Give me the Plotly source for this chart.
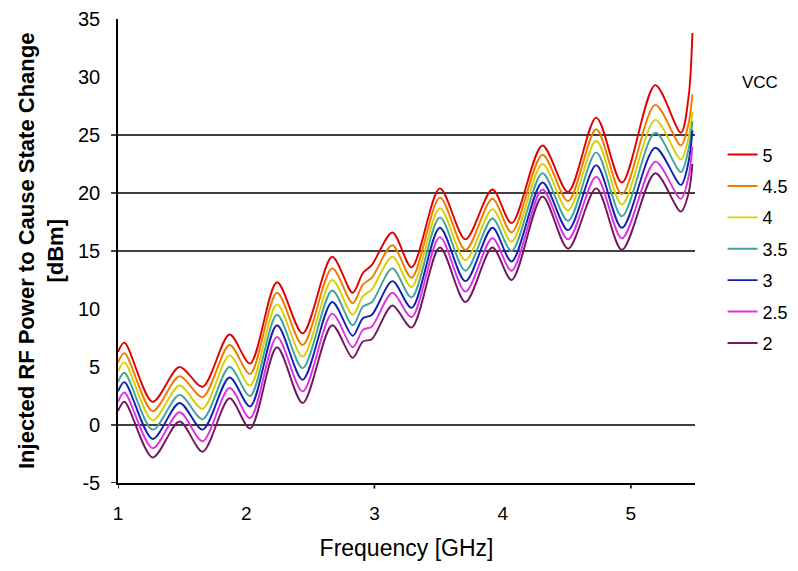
import plotly.graph_objects as go

# frequency points (GHz) at peaks / troughs
freq_ghz = [1.00, 1.05, 1.27, 1.48, 1.66, 1.87, 2.03, 2.24, 2.44, 2.67, 2.83, 2.91, 2.98, 3.14,
            3.29, 3.51, 3.71, 3.92, 4.07, 4.31, 4.51, 4.73, 4.93, 5.19, 5.39, 5.45, 5.48]

# injected RF power (dBm) per VCC level
vcc_5 = [6.3, 7.1, 2.0, 5.0, 3.3, 7.8, 5.3, 12.3, 7.9, 14.5, 11.4, 13.1, 13.8, 16.6,
         13.6, 20.4, 16.0, 20.3, 17.4, 24.1, 20.1, 26.5, 20.9, 29.3, 25.2, 28.3, 33.8]
vcc_4_5 = [5.4, 6.2, 1.2, 4.2, 2.4, 6.9, 4.4, 11.4, 6.9, 13.5, 10.5, 12.1, 12.7, 15.5,
           12.7, 19.6, 15.1, 19.5, 16.6, 23.3, 19.3, 25.5, 19.9, 27.6, 24.1, 26.0, 28.5]
vcc_4 = [4.6, 5.4, 0.4, 3.4, 1.4, 6.0, 3.4, 10.4, 5.9, 12.5, 9.5, 11.1, 11.7, 14.5,
         11.9, 18.7, 14.2, 18.6, 15.8, 22.5, 18.5, 24.5, 19.0, 26.3, 22.9, 24.8, 27.0]
vcc_3_5 = [3.7, 4.5, -0.4, 2.6, 0.5, 5.0, 2.5, 9.5, 4.9, 11.6, 8.6, 10.2, 10.6, 13.5,
           11.0, 17.9, 13.3, 17.8, 15.0, 21.7, 17.6, 23.5, 18.0, 25.2, 21.8, 23.8, 26.2]
vcc_3 = [2.9, 3.7, -1.2, 1.9, -0.4, 4.1, 1.6, 8.6, 3.9, 10.6, 7.7, 9.2, 9.5, 12.4,
         10.1, 17.0, 12.4, 17.0, 14.1, 20.9, 16.8, 22.4, 17.0, 23.9, 20.7, 22.7, 25.4]
vcc_2_5 = [2.0, 2.8, -2.0, 1.1, -1.4, 3.2, 0.6, 7.6, 2.9, 9.6, 6.7, 8.2, 8.5, 11.4,
           9.3, 16.2, 11.5, 16.1, 13.3, 20.3, 16.0, 21.4, 16.1, 22.7, 19.5, 21.4, 24.0]
vcc_2 = [1.2, 2.0, -2.8, 0.3, -2.3, 2.3, -0.3, 6.7, 1.9, 8.6, 5.8, 7.2, 7.4, 10.3,
         8.4, 15.3, 10.6, 15.3, 12.5, 19.7, 15.2, 20.4, 15.1, 21.7, 18.4, 20.0, 22.5]

vcc_labels = ["5", "4.5", "4", "3.5", "3", "2.5", "2"]
series = [vcc_5, vcc_4_5, vcc_4, vcc_3_5, vcc_3, vcc_2_5, vcc_2]
line_colors = ["#e00000", "#ee7a00", "#d8d000", "#3fa3a0", "#1020b0", "#e030e0", "#701860"]

x_ticks = [1, 2, 3, 4, 5]
x_tick_marks = [1, 3, 5]
y_ticks = [-5, 0, 5, 10, 15, 20, 25, 30, 35]
y_tick_text = ["-5", "0", "5", "10", "15", "20", "25", "30", "35"]
grid_levels = [0, 15, 20, 25]
font = "Arial, Liberation Sans, sans-serif"

fig = go.Figure()
for label, values, color in zip(vcc_labels, series, line_colors):
    fig.add_trace(go.Scatter(
        x=freq_ghz, y=values, name=label, mode="lines", legendgroup=label,
        line=dict(color=color, width=1.9, shape="spline", smoothing=0.85),
    ))

# black horizontal grid lines that also stick out left of the axis like ticks
for g in grid_levels + [-5]:
    fig.add_shape(type="line", xref="paper", yref="y", x0=-0.012, x1=1 if g != -5 else 0,
                  y0=g, y1=g, line=dict(color="black", width=1.6), layer="below")
for t in x_tick_marks:
    fig.add_shape(type="line", xref="x", yref="paper", x0=t, x1=t, y0=0, y1=-0.012,
                  line=dict(color="black", width=1.6))

fig.add_annotation(text="<b>Injected RF Power to Cause State Change<br>[dBm]</b>",
                   xref="paper", yref="paper", x=0, y=0.5, xshift=-77, textangle=-90,
                   xanchor="center", yanchor="middle",
                   showarrow=False, font=dict(family=font, size=22, color="black"))
fig.add_annotation(text="VCC", xref="paper", yref="paper", x=1.078, y=0.864,
                   xanchor="left", yanchor="middle", showarrow=False,
                   font=dict(family=font, size=17, color="black"))

# page body adds 8px, so the figure is made 8px smaller
fig.update_layout(
    template="none",
    width=790, height=563,
    margin=dict(l=110, r=103, t=11, b=88),
    plot_bgcolor="white", paper_bgcolor="white",
    font=dict(family=font, color="black"),
    showlegend=True,
    legend=dict(xref="container", yref="container", x=0.9045, xanchor="left",
                y=0.772, yanchor="top", tracegroupgap=5,
                font=dict(family=font, size=18), bgcolor="rgba(0,0,0,0)"),
    xaxis=dict(range=[1, 5.5], tickvals=x_ticks, ticks="", showgrid=False, zeroline=False,
               automargin=False, showline=True, linecolor="black", linewidth=1.6,
               ticklabelstandoff=12, tickfont=dict(size=19),
               title=dict(text="Frequency [GHz]", font=dict(size=23), standoff=17)),
    yaxis=dict(range=[-5, 35], tickvals=y_ticks, ticktext=y_tick_text, ticks="",
               showgrid=False, zeroline=False,
               automargin=False, showline=True, linecolor="black", linewidth=1.6,
               ticklabelstandoff=12, tickfont=dict(size=20)),
)

fig.write_html("out.html")
